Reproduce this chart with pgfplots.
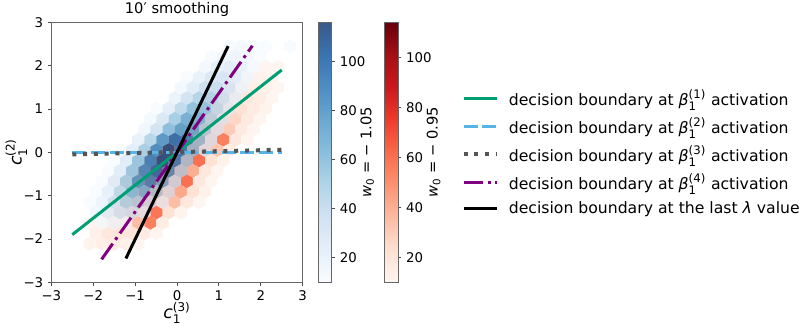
\documentclass[border=0pt]{standalone}
\usepackage{fontspec}
\setmainfont{DejaVu Sans}
\usepackage{pgfplots}
\usepackage{pgfplotstable}
\pgfplotsset{compat=1.18}

\definecolor{cgreen}{RGB}{0,158,115}
\definecolor{cblue}{RGB}{86,180,233}
\definecolor{cgray}{RGB}{85,85,85}
\definecolor{cpurple}{RGB}{128,0,128}

% pointy-top hexagon, one hexbin cell
\pgfdeclareplotmark{hexa}{%
  \pgfpathmoveto{\pgfqpoint{0pt}{5.2pt}}%
  \pgfpathlineto{\pgfqpoint{4.54pt}{2.6pt}}%
  \pgfpathlineto{\pgfqpoint{4.54pt}{-2.6pt}}%
  \pgfpathlineto{\pgfqpoint{0pt}{-5.2pt}}%
  \pgfpathlineto{\pgfqpoint{-4.54pt}{-2.6pt}}%
  \pgfpathlineto{\pgfqpoint{-4.54pt}{2.6pt}}%
  \pgfpathclose
  \pgfusepathqfill
}

\newcommand{\fs}{\fontsize{10}{12}\selectfont}
\newcommand{\fl}{\fontsize{11.75}{14}\selectfont}
% stacked sub/superscript set in the text font
\newcommand{\scr}[3][8.8]{\ensuremath{{}_{\mbox{\fontsize{#1}{#1}\selectfont #2}}^{\mbox{\fontsize{#1}{#1}\selectfont #3}}}}

\pgfplotsset{
  colormap={reds}{rgb255=(255,245,240) rgb255=(254,224,210) rgb255=(252,187,161)
    rgb255=(252,146,114) rgb255=(251,106,74) rgb255=(239,59,44) rgb255=(203,24,29)
    rgb255=(165,15,21) rgb255=(103,0,13)},
  colormap={blues}{rgb255=(247,251,255) rgb255=(222,235,247) rgb255=(198,219,239)
    rgb255=(158,202,225) rgb255=(107,174,214) rgb255=(66,146,198) rgb255=(33,113,181)
    rgb255=(8,81,156) rgb255=(8,48,107)},
  % blues seen through alpha 0.8
  colormap={bluesw}{rgb255=(249,252,255) rgb255=(229,239,249) rgb255=(209,226,242)
    rgb255=(177,213,231) rgb255=(137,190,222) rgb255=(104,168,209) rgb255=(77,141,196)
    rgb255=(57,116,176) rgb255=(57,89,137)},
  panel/.style={
    at={(0pt,0pt)}, anchor=south west,
    scale only axis, width=188.5pt, height=195pt,
    xmin=-3, xmax=3, ymin=-3, ymax=3,
  },
  cbar/.style={
    scale only axis, width=10pt, height=195pt, anchor=south west,
    xmin=0, xmax=1, ymin=10, enlargelimits=false, axis on top,
    xtick=\empty, ytick={20,40,60,80,100}, yticklabels={20,40,60,80,100},
    ytick pos=right, yticklabel pos=right, tick align=outside,
    major tick length=2.6pt,
    axis line style={black!60, line width=0.6pt},
    tick style={black!70, line width=0.6pt},
    ylabel style={font=\fontsize{11}{13}\selectfont},
    ylabel shift=-10.5pt,
  },
}

\pgfplotstableread{
x y c
1.25 2.45 11
1.54 2.45 13
1.83 2.45 11
2.12 2.45 10
2.70 2.45 11
0.815 2.21 11
1.105 2.21 16
1.395 2.21 18
1.685 2.21 15
1.975 2.21 10
0.67 1.97 14
0.96 1.97 22
1.25 1.97 24
1.54 1.97 20
1.83 1.97 13
0.235 1.73 11
0.525 1.73 20
0.815 1.73 30
1.105 1.73 32
1.395 1.73 25
1.685 1.73 15
0.09 1.49 14
0.38 1.49 26
0.67 1.49 38
0.96 1.49 40
1.25 1.49 31
1.54 1.49 17
-0.055 1.25 19
0.235 1.25 35
0.525 1.25 48
0.815 1.25 49
1.105 1.25 36
1.395 1.25 20
-0.49 1.01 10
-0.20 1.01 23
0.09 1.01 43
0.38 1.01 59
0.67 1.01 58
0.96 1.01 41
1.25 1.01 22
-0.635 0.77 13
-0.345 0.77 30
-0.055 0.77 53
0.235 0.77 69
0.525 0.77 65
0.815 0.77 44
1.105 0.77 23
-0.78 0.53 15
-0.49 0.53 35
-0.20 0.53 61
0.09 0.53 77
0.38 0.53 71
0.67 0.53 47
0.96 0.53 23
-0.925 0.29 20
-0.635 0.29 47
-0.345 0.29 81
-0.055 0.29 99
0.235 0.29 87
0.525 0.29 55
0.815 0.29 25
-1.36 0.05 11
-1.07 0.05 23
-0.78 0.05 52
-0.49 0.05 86
-0.20 0.05 114
0.09 0.05 89
0.38 0.05 55
0.67 0.05 24
-1.505 -0.19 10
-1.215 -0.19 26
-0.925 -0.19 57
-0.635 -0.19 91
-0.345 -0.19 110
-0.055 -0.19 86
0.235 -0.19 50
-1.65 -0.43 10
-1.36 -0.43 26
-1.07 -0.43 56
-0.78 -0.43 86
-0.49 -0.43 96
-0.20 -0.43 77
0.09 -0.43 44
-1.795 -0.67 10
-1.505 -0.67 25
-1.215 -0.67 51
-0.925 -0.67 77
-0.635 -0.67 83
-0.345 -0.67 63
-0.055 -0.67 35
-1.94 -0.91 10
-1.65 -0.91 22
-1.36 -0.91 43
-1.07 -0.91 62
-0.78 -0.91 65
-0.49 -0.91 49
-0.20 -0.91 26
-2.085 -1.15 10
-1.795 -1.15 18
-1.505 -1.15 34
-1.215 -1.15 48
-0.925 -1.15 47
-0.635 -1.15 34
-0.345 -1.15 18
-1.94 -1.39 14
-1.65 -1.39 24
-1.36 -1.39 32
-1.07 -1.39 32
-0.78 -1.39 23
-1.795 -1.63 12
-1.505 -1.63 14
-1.215 -1.63 14
}\bluehex

\pgfplotstableread{
x y c
2.12 1.97 10
2.41 1.97 10
1.685 1.73 12
1.975 1.73 12
2.265 1.73 11
1.25 1.49 13
1.54 1.49 17
1.83 1.49 14
2.12 1.49 13
2.41 1.49 10
0.815 1.25 12
1.105 1.25 20
1.395 1.25 24
1.685 1.25 18
1.975 1.25 15
2.265 1.25 10
0.38 1.01 10
0.67 1.01 19
0.96 1.01 28
1.25 1.01 32
1.54 1.01 22
1.83 1.01 16
2.12 1.01 11
0.235 0.77 15
0.525 0.77 27
0.815 0.77 37
1.105 0.77 41
1.395 0.77 26
1.685 0.77 17
1.975 0.77 10
-0.20 0.53 11
0.09 0.53 23
0.38 0.53 37
0.67 0.53 47
0.96 0.53 47
1.25 0.53 30
1.54 0.53 17
1.83 0.53 10
-0.345 0.29 16
-0.055 0.29 32
0.235 0.29 47
0.525 0.29 55
0.815 0.29 51
1.105 0.29 55
1.395 0.29 18
1.685 0.29 10
-0.78 0.05 10
-0.49 0.05 23
-0.20 0.05 41
0.09 0.05 56
0.38 0.05 61
0.67 0.05 52
0.96 0.05 32
1.25 0.05 15
-0.925 -0.19 14
-0.635 -0.19 31
-0.345 -0.19 50
-0.055 -0.19 63
0.235 -0.19 64
0.525 -0.19 60
0.815 -0.19 22
1.105 -0.19 12
-1.07 -0.43 20
-0.78 -0.43 38
-0.49 -0.43 57
-0.20 -0.43 68
0.09 -0.43 62
0.38 -0.43 40
0.67 -0.43 18
0.96 -0.43 10
-1.505 -0.67 11
-1.215 -0.67 25
-0.925 -0.67 44
-0.635 -0.67 61
-0.345 -0.67 67
-0.055 -0.67 57
0.235 -0.67 60
0.525 -0.67 18
0.815 -0.67 10
-1.36 -0.91 14
-1.07 -0.91 29
-0.78 -0.91 47
-0.49 -0.91 59
-0.20 -0.91 60
0.09 -0.91 42
0.38 -0.91 22
0.67 -0.91 12
-1.505 -1.15 16
-1.215 -1.15 31
-0.925 -1.15 46
-0.635 -1.15 54
-0.345 -1.15 50
-0.055 -1.15 35
0.235 -1.15 18
0.525 -1.15 10
-1.65 -1.39 16
-1.36 -1.39 30
-1.07 -1.39 41
-0.78 -1.39 45
-0.49 -1.39 58
-0.20 -1.39 22
0.09 -1.39 11
-2.085 -1.63 10
-1.795 -1.63 16
-1.505 -1.63 27
-1.215 -1.63 34
-0.925 -1.63 35
-0.635 -1.63 55
-0.345 -1.63 15
-1.94 -1.87 13
-1.65 -1.87 18
-1.36 -1.87 20
-1.07 -1.87 20
-0.78 -1.87 16
-0.49 -1.87 10
-2.085 -2.11 11
-1.795 -2.11 14
-1.505 -2.11 16
-1.215 -2.11 13
-0.925 -2.11 10
}\redhex

\begin{document}
\begin{tikzpicture}[font=\fs]
% bottom layer: frame, ticks, labels and the red hexbin
\begin{axis}[panel,
    xtick={-3,...,3}, ytick={-3,...,3},
    xticklabels={−3,−2,−1,0,1,2,3},
    yticklabels={−3,−2,−1,0,1,2,3},
    xtick pos=bottom, ytick pos=left, tick align=outside,
    major tick length=2.6pt,
    axis line style={black!60, line width=0.6pt},
    tick style={black!70, line width=0.6pt},
    title={10′ smoothing},
    title style={yshift=-5.5pt, font=\fontsize{11}{13}\selectfont},
    xlabel={\fontsize{13}{14}\selectfont{\itshape c}\scr[9]{1}{(3)}},
    ylabel={\fontsize{13}{14}\selectfont{\itshape c}\scr[9]{1}{(2)}},
    xlabel shift=-5.5pt, ylabel shift=-9.5pt,
    colormap name=reds, point meta min=10, point meta max=114,
]
\addplot[scatter, only marks, mark=hexa, point meta=explicit]
    table[x=x, y=y, meta=c] {\redhex};
\end{axis}

% blue hexbin drawn over the red one with alpha 0.8
\begin{axis}[panel, hide axis,
    colormap name=blues, point meta min=10, point meta max=116]
\addplot[scatter, only marks, mark=hexa, point meta=explicit,
    fill opacity=0.8, mark options={fill opacity=0.8}]
    table[x=x, y=y, meta=c] {\bluehex};
\end{axis}

% decision boundaries and legend on top
\begin{axis}[panel, hide axis,
    legend cell align=left,
    legend style={at={(1.615,0.5)}, anchor=west, draw=none, fill=none,
        row sep=3.6pt, font=\fl,
        /tikz/every odd column/.append style={column sep=5.5pt}},
    legend image code/.code={\draw[#1] (0pt,0pt) -- (25pt,0pt);},
]
\addplot[cgreen, line width=2.25pt] coordinates {(-2.5,-1.9) (2.5,1.9)};
\addlegendentry{decision boundary at {\itshape β}\scr{1}{(1)} activation}
\addplot[cblue, line width=2.5pt, dash pattern=on 10.5pt off 3.5pt]
    coordinates {(-2.5,0) (2.5,0)};
\addlegendentry{decision boundary at {\itshape β}\scr{1}{(2)} activation}
\addplot[cgray, line width=3pt, dash pattern=on 3pt off 5.1pt]
    coordinates {(-2.5,-0.05) (2.5,0.06)};
\addlegendentry{decision boundary at {\itshape β}\scr{1}{(3)} activation}
\addplot[cpurple, line width=2.25pt,
    dash pattern=on 14.4pt off 3.6pt on 2.25pt off 3.6pt]
    coordinates {(-1.8,-2.47) (1.8,2.46)};
\addlegendentry{decision boundary at {\itshape β}\scr{1}{(4)} activation}
\addplot[black, line width=2.25pt] coordinates {(-1.22,-2.45) (1.22,2.45)};
\addlegendentry{decision boundary at the last {\itshape λ} value}
\end{axis}

% colorbars
\begin{axis}[cbar, at={(200.25pt,0pt)}, ymax=116, colormap name=bluesw,
    ylabel={{\itshape w}\textsubscript{0} = − 1.05}]
\addplot[surf, shader=interp, point meta=y, mesh/rows=2, mesh/cols=2]
    coordinates {(0,10) (1,10) (0,116) (1,116)};
\end{axis}
\begin{axis}[cbar, at={(250pt,0pt)}, ymax=114, colormap name=reds,
    ylabel={{\itshape w}\textsubscript{0} = − 0.95}]
\addplot[surf, shader=interp, point meta=y, mesh/rows=2, mesh/cols=2]
    coordinates {(0,10) (1,10) (0,114) (1,114)};
\end{axis}

\pgfresetboundingbox
\useasboundingbox (-38.5pt,-33.5pt) rectangle (563.75pt,211.75pt);
\end{tikzpicture}
\end{document}
